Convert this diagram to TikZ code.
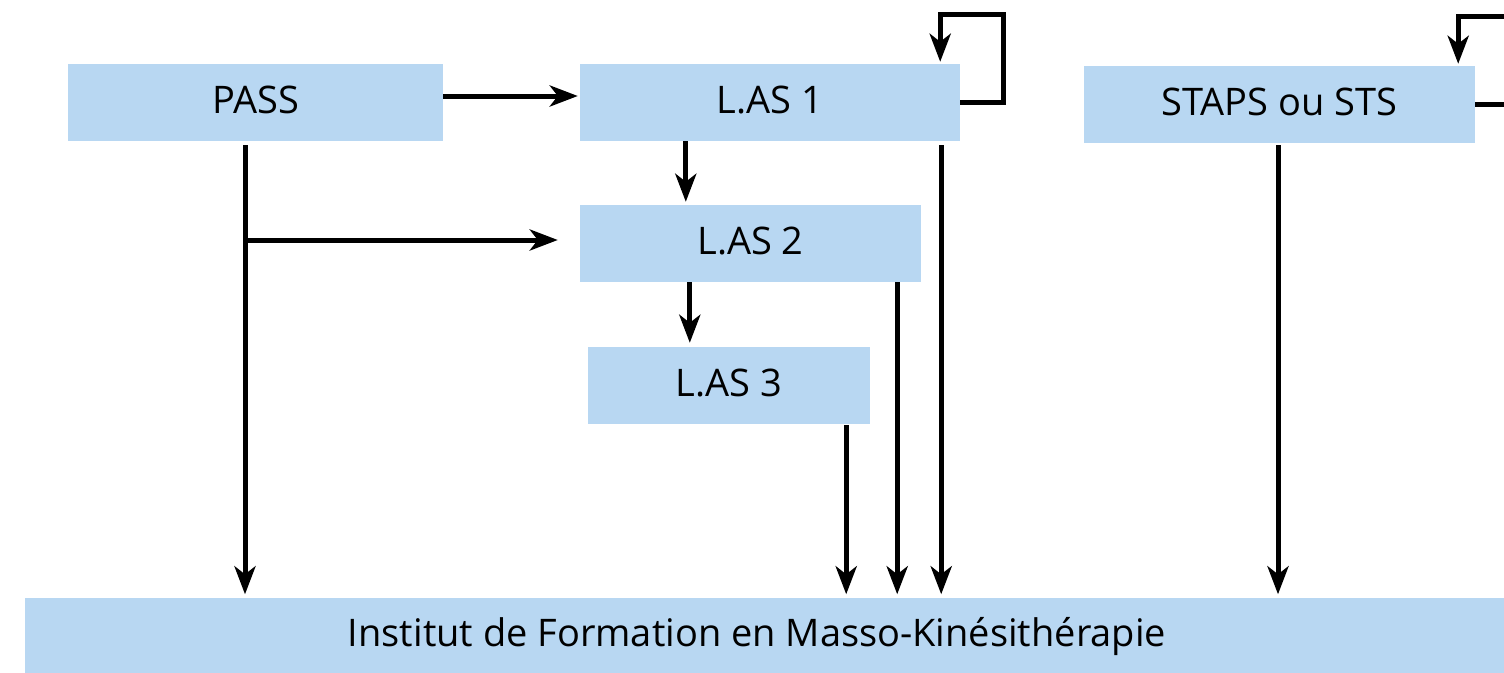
\documentclass[tikz,border=0pt]{standalone}
\usepackage{fontspec}
\setmainfont{Open Sans}
\usetikzlibrary{arrows.meta,calc}
\definecolor{boxblue}{RGB}{184,215,242}
\begin{document}
\begin{tikzpicture}[x=1pt,y=-1pt,
  box/.style={rectangle,fill=boxblue,inner sep=0pt,font=\fontsize{38}{44}\selectfont,
    text height=27pt,text depth=6pt},
  arr/.style={line width=5pt,line join=miter,
    -{Stealth[length=28pt,width=21pt,inset=8pt]}}]
\useasboundingbox (0,0) rectangle (1504,672);
\clip (0,0) rectangle (1504,672);
\node[box,minimum width=375pt,minimum height=77pt] (pass) at (255.5,102.5) {PASS};
\node[box,minimum width=380pt,minimum height=77pt] (las1) at (770,102.5) {L.AS 1};
\node[box,minimum width=391pt,minimum height=77pt] (staps) at (1279.5,104.5) {STAPS ou STS};
\node[box,minimum width=341pt,minimum height=77pt] (las2) at (750.5,243.5) {L.AS 2};
\node[box,minimum width=282pt,minimum height=77pt] (las3) at (729,385.5) {L.AS 3};
\node[box,minimum width=1505pt,minimum height=77pt] (ifmk) at (777.5,636)
  {\hspace*{-41pt}Institut de Formation en Masso-Kinésithérapie};
% PASS -> L.AS 1
\draw[arr] ($(pass.east)+(0,-6.5)$) -- ($(las1.west)+(-2,-6.5)$);
% L.AS 1 loop
\draw[arr] (las1.east) -- ++(43,0) -- ++(0,-88) -| ($(las1.north east)+(-20,-2)$);
% STAPS loop
\draw[arr] (staps.east) -- ++(45,0) -- ++(0,-88) -| ($(staps.north east)+(-17,-2)$);
% L.AS 1 -> L.AS 2
\draw[arr] ($(las1.south west)+(106,0)$) -- ($(las2.north west)+(106,-3)$);
% L.AS 2 -> L.AS 3
\draw[arr] ($(las2.south west)+(110,0)$) -- ($(las3.north west)+(102,-4)$);
% PASS down
\coordinate (pd) at ($(pass.south)+(-10.5,4)$);
\draw[arr] (pd) -- ($(ifmk.north -| pd)+(0,-3)$);
% PASS branch -> L.AS 2
\draw[arr] ($(pd |- las2.west)+(0,-3.5)$) -- ($(las2.west)+(-22,-3.5)$);
% down arrows to IFMK
\coordinate (l3d) at ($(las3.south east)+(-24,1)$);
\draw[arr] (l3d) -- ($(ifmk.north -| l3d)+(0,-3)$);
\coordinate (l2d) at ($(las2.south east)+(-24,0)$);
\draw[arr] (l2d) -- ($(ifmk.north -| l2d)+(0,-3)$);
\coordinate (l1d) at ($(las1.south east)+(-19,4)$);
\draw[arr] (l1d) -- ($(ifmk.north -| l1d)+(0,-3)$);
\coordinate (sd) at ($(staps.south)+(-1.5,2)$);
\draw[arr] (sd) -- ($(ifmk.north -| sd)+(0,-3)$);
\end{tikzpicture}
\end{document}
